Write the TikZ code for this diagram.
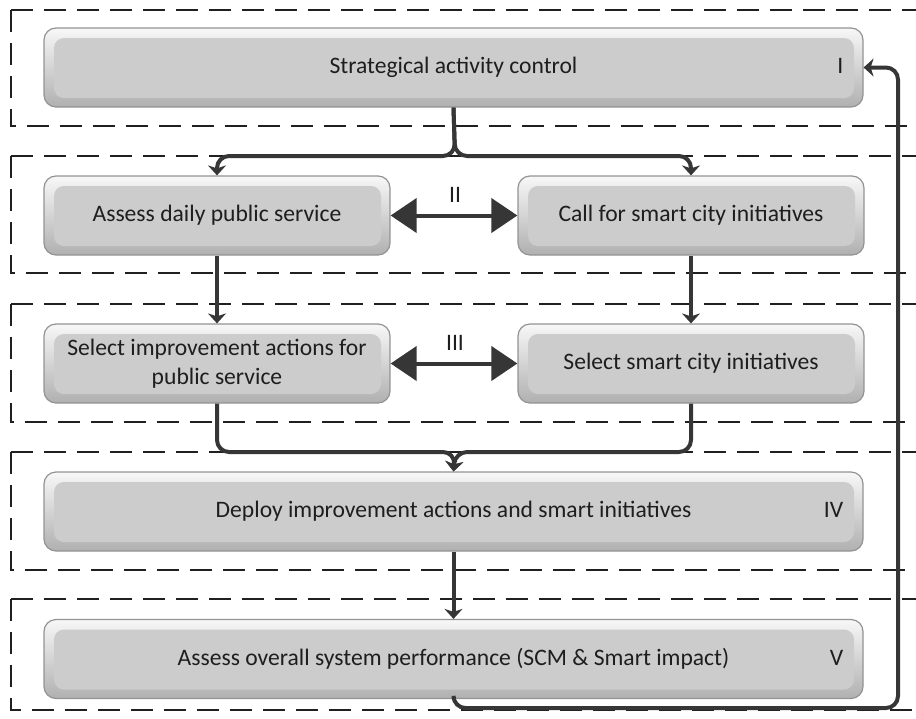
\documentclass[tikz,border=0pt]{standalone}
\usepackage{fontspec}
\setmainfont{Carlito}
\usetikzlibrary{arrows.meta,positioning,calc}
\definecolor{flowgray}{HTML}{363636}
\definecolor{textgray}{HTML}{1E1E1E}
\tikzset{
	stepbox/.style={draw=gray!85, line width=0.6pt, rounded corners=6pt, top color=gray!6, bottom color=gray!62, minimum height=39.5pt, inner sep=0pt, align=center, text=textgray,
		path picture={\fill[gray!40, rounded corners=5pt] ([shift={(5pt,-5pt)}]path picture bounding box.north west) rectangle ([shift={(-4.5pt,4.5pt)}]path picture bounding box.south east);}},
	wide/.style={minimum width=409.5pt},
	half/.style={minimum width=173pt},
	band/.style={draw=gray!25!black, line width=0.75pt, dash pattern=on 11pt off 5.5pt},
	flow/.style={draw=flowgray, line width=2pt, rounded corners=6pt, -{Stealth[length=5pt,width=9pt,inset=1.5pt]}},
	bigflow/.style={draw=flowgray, line width=2pt, {Triangle[length=13pt,width=17pt]}-{Triangle[length=13pt,width=17pt]}},
	tag/.style={text=textgray, inner sep=0pt, anchor=base east}
}
\begin{document}
	\begin{tikzpicture}[x=0.5pt, y=-0.5pt, font=\fontsize{11.8}{14.5}\selectfont]
		\useasboundingbox (0,0) rectangle (916,718);
		\draw[band] (11,10) -- (916,10) (11,10) -- (11,126) -- (916,126);
		\draw[band] (11,156) -- (916,156) (11,156) -- (11,273) -- (916,273);
		\draw[band] (11,304) -- (916,304) (11,304) -- (11,422) -- (916,422);
		\draw[band] (11,452) -- (916,452) (11,452) -- (11,570) -- (916,570);
		\draw[band] (11,599) -- (916,599) (11,599) -- (11,710) -- (916,710);
		\node[stepbox, wide] (strat) at (453.5,67.5) {Strategical activity control};
		\node[stepbox, half] (daily) at (217,215.5) {Assess daily public service};
		\node[stepbox, half] (call) at (691,215.5) {Call for smart city initiatives};
		\node[stepbox, half] (improve) at (217,363.5) {Select improvement actions for\\public service};
		\node[stepbox, half] (select) at (691,363.5) {Select smart city initiatives};
		\node[stepbox, wide] (deploy) at (453.5,511.5) {Deploy improvement actions and smart initiatives};
		\node[stepbox, wide] (overall) at (453.5,659) {Assess overall system performance (SCM \& Smart impact)};
		\node[tag, xshift=-10pt] (tagI) at (strat.base east) {I};
		\node[tag, xshift=-10pt] (tagIV) at (deploy.base east) {IV};
		\node[tag, xshift=-10pt] (tagV) at (overall.base east) {V};
		\node[text=textgray, inner sep=0pt] (tagII) at (455,195) {II};
		\node[text=textgray, inner sep=0pt] (tagIII) at (455,343) {III};
		\coordinate (fork) at (455,156);
		\coordinate (merge) at (455,452);
		\coordinate (back) at (898,708);
		\draw[flow] (strat.south) -- (fork) -| (daily.north);
		\draw[flow] (strat.south) -- (fork) -| (call.north);
		\draw[flow] (daily.south) -- (improve.north);
		\draw[flow] (call.south) -- (select.north);
		\draw[bigflow] (daily.east) -- (call.west);
		\draw[bigflow] (improve.east) -- (select.west);
		\draw[flow] (improve.south) |- (merge) -- (deploy.north);
		\draw[flow] (select.south) |- (merge) -- (deploy.north);
		\draw[flow] (deploy.south) -- (overall.north);
		\draw[flow] (overall.south) |- (back) |- (strat.east);
	\end{tikzpicture}
\end{document}
